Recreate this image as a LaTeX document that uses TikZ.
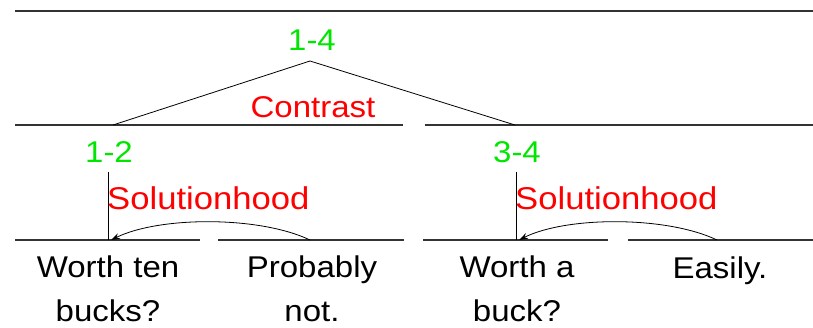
\documentclass[tikz,border=0pt]{standalone}
\usepackage{fontspec}
\setmainfont{Liberation Sans}[FakeStretch=1.1]
\usetikzlibrary{arrows.meta}
\definecolor{lbl}{RGB}{0,230,0}
\definecolor{rel}{RGB}{255,0,0}
\tikzset{
  seg/.style={draw=black!80, line width=1.3pt},
  link/.style={draw=black, line width=0.8pt},
  span/.style={text=lbl, font=\fontsize{30}{36}\selectfont, inner sep=0pt},
  relname/.style={text=rel, font=\fontsize{30}{36}\selectfont, inner sep=0pt},
  solname/.style={text=rel, font=\fontsize{31.5}{36}\selectfont, inner sep=0pt, anchor=west},
  leaf/.style={text=black, font=\fontsize{30}{44}\selectfont, align=center, inner sep=0pt},
  arr/.style={link, -{Stealth[length=9pt,width=6pt]}}
}
\begin{document}
\begin{tikzpicture}[x=1pt,y=-1pt]
\useasboundingbox (0,0) rectangle (813,327);
% horizontal span lines
\coordinate (t1) at (15,11);   \coordinate (t2) at (813,11);
\coordinate (a1) at (15,125);  \coordinate (a2) at (403,125);
\coordinate (b1) at (425,125); \coordinate (b2) at (813,125);
\coordinate (c1) at (15,240);  \coordinate (c2) at (200,240);
\coordinate (d1) at (218,240); \coordinate (d2) at (404,240);
\coordinate (e1) at (423,240); \coordinate (e2) at (608,240);
\coordinate (f1) at (628,240); \coordinate (f2) at (813,240);
\path[seg] (t1) -- (t2);
\path[seg] (a1) -- (a2);
\path[seg] (b1) -- (b2);
\path[seg] (c1) -- (c2);
\path[seg] (d1) -- (d2);
\path[seg] (e1) -- (e2);
\path[seg] (f1) -- (f2);
% top relation
\node[span] (n14) at (312,40) {1-4};
\coordinate (apex) at (310,61);
\coordinate (lfoot) at (113,125);
\coordinate (rfoot) at (515,125);
\path[link] (lfoot) -- (apex) -- (rfoot);
\node[relname] (contrast) at (313,107) {Contrast};
% left subtree
\node[span] (n12) at (109,152) {1-2};
\coordinate (v1t) at (108,172);
\coordinate (v1b) at (108,240);
\path[link] (v1t) -- (v1b);
\node[solname] (sol1) at (107,198) {Solutionhood};
\coordinate (s1) at (310,240);
\coordinate (g1) at (111,240);
\path[arr] (s1) .. controls (260,216) and (160,216) .. (g1);
\node[leaf] (w1) at (108,289) {Worth ten\\bucks?};
\node[leaf] (w2) at (312,289) {Probably\\not.};
% right subtree
\node[span] (n34) at (517,152) {3-4};
\coordinate (v2t) at (516,172);
\coordinate (v2b) at (516,240);
\path[link] (v2t) -- (v2b);
\node[solname] (sol2) at (515,198) {Solutionhood};
\coordinate (s2) at (717,240);
\coordinate (g2) at (519,240);
\path[arr] (s2) .. controls (667,216) and (567,216) .. (g2);
\node[leaf] (w3) at (517,289) {Worth a\\buck?};
\node[leaf, anchor=base] (w4) at (720,278) {Easily.};
\end{tikzpicture}
\end{document}
